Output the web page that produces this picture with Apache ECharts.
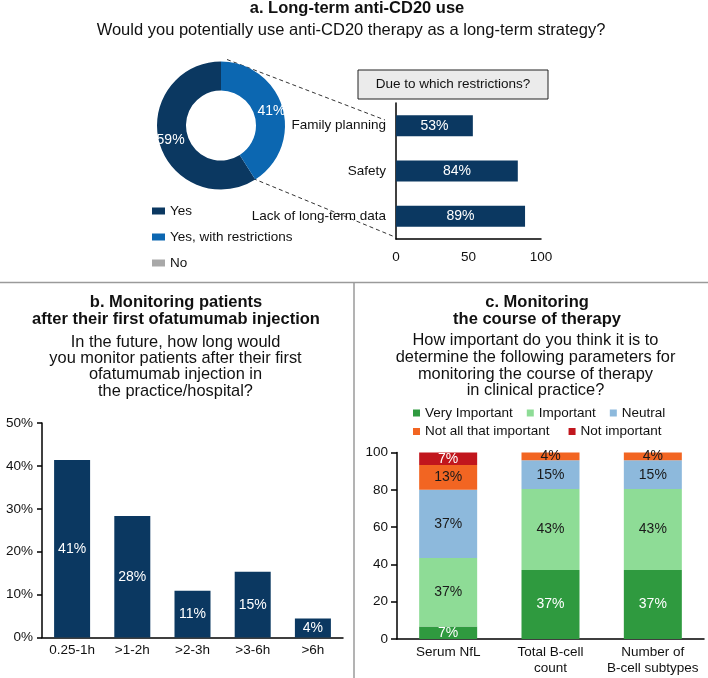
<!DOCTYPE html>
<html>
<head>
<meta charset="utf-8">
<script src="https://cdn.jsdelivr.net/npm/echarts@6/dist/echarts.min.js"></script>
<style>
html,body{margin:0;padding:0;background:#fff;}
#chart{width:708px;height:678px;}
</style>
</head>
<body>
<div id="chart"></div>
<script>
// ---- Panel a data ----
const pieNames = ['Yes', 'Yes, with restrictions', 'No'];
const pieValues = [59, 41, 0];
const restrictCats = ['Family planning', 'Safety', 'Lack of long-term data'];
const restrictValues = [53, 84, 89];
const restrictTicks = [0, 50, 100];

// ---- Panel b data ----
const monitorCats = ['0.25-1h', '>1-2h', '>2-3h', '>3-6h', '>6h'];
const monitorValues = [41.4, 28.3, 10.9, 15.3, 4.4];

// ---- Panel c data ----
const paramCats = ['Serum NfL', 'Total B-cell\ncount', 'Number of\nB-cell subtypes'];
const levelNames = ['Very Important', 'Important', 'Neutral', 'Not all that important', 'Not important'];
const veryImportant = [6.7, 37, 37];
const important = [36.7, 43.4, 43.4];
const neutral = [36.6, 15.4, 15.4];
const notAllThatImportant = [13.3, 4.2, 4.2];
const notImportant = [6.7, 0, 0];

const FONT = 'Liberation Sans, Arial, Helvetica, sans-serif';
const NAVY = '#0b3861';
const MIDBLUE = '#0c67b1';
const GREY = '#a8a8a8';
const levelColors = ['#2f9a3f', '#8edc96', '#8db9dc', '#f26522', '#c1161d'];
const levelLabelColors = ['#fff', '#1a1a1a', '#1a1a1a', '#1a1a1a', '#fff'];
const levelData = [veryImportant, important, neutral, notAllThatImportant, notImportant];

function textEl(str, x, y, size, bold, extra) {
  return Object.assign({
    type: 'text', x: x, y: y, silent: true,
    style: Object.assign({
      text: str, fill: '#111',
      fontSize: size, fontWeight: bold ? 'bold' : 'normal', fontFamily: FONT,
      align: 'center', verticalAlign: 'middle',
      textAlign: 'center', textVerticalAlign: 'middle'
    }, extra || {})
  });
}
function lines(arr, x, ys, size, bold) {
  return arr.map((s, i) => textEl(s, x, ys[i], size, bold));
}

const graphics = [].concat(
  [textEl('a. Long-term anti-CD20 use', 357, 8.5, 16.5, true),
   textEl('Would you potentially use anti-CD20 therapy as a long-term strategy?', 351, 30.5, 16.5, false),
   {type: 'rect', silent: true, shape: {x: 358, y: 70, width: 190, height: 29},
    style: {fill: '#ebebeb', stroke: '#222', lineWidth: 1}},
   textEl('Due to which restrictions?', 453, 84.5, 13.5, false),
   {type: 'line', silent: true, shape: {x1: 227, y1: 59.5, x2: 385, y2: 120},
    style: {stroke: '#333', lineWidth: 1, lineDash: [4, 3]}},
   {type: 'line', silent: true, shape: {x1: 253, y1: 178.5, x2: 395, y2: 237},
    style: {stroke: '#333', lineWidth: 1, lineDash: [4, 3]}},
   {type: 'line', silent: true, shape: {x1: 0, y1: 282.5, x2: 708, y2: 282.5},
    style: {stroke: '#9a9a9a', lineWidth: 1.5}},
   {type: 'line', silent: true, shape: {x1: 354, y1: 282.5, x2: 354, y2: 678},
    style: {stroke: '#9a9a9a', lineWidth: 1.5}}],
  lines(['b. Monitoring patients', 'after their first ofatumumab injection'], 176, [302.5, 319], 16.5, true),
  lines(['In the future, how long would', 'you monitor patients after their first',
         'ofatumumab injection in', 'the practice/hospital?'], 175.5, [342.5, 358.5, 374.5, 391], 16.4, false),
  lines(['c. Monitoring', 'the course of therapy'], 537, [302.5, 319], 16.5, true),
  lines(['How important do you think it is to', 'determine the following parameters for',
         'monitoring the course of therapy', 'in clinical practice?'], 535.5, [340.5, 357.2, 374, 390.8], 16.4, false)
);

const axisBlack = {lineStyle: {color: '#000', width: 1.5}};
const tickLbl = {color: '#111', fontSize: 13.5, fontFamily: FONT};
const legendText = {fontSize: 13.5, color: '#111', lineHeight: 16, fontFamily: FONT};

const option = {
  animation: false,
  textStyle: {fontFamily: FONT},
  graphic: graphics,
  legend: [
    {
      data: pieNames, orient: 'vertical', left: 152, top: 203, padding: 0,
      itemWidth: 13, itemHeight: 7, itemGap: 10, icon: 'rect', selectedMode: false,
      textStyle: legendText
    },
    {
      data: levelNames.slice(0, 3), orient: 'horizontal', left: 413, top: 405, padding: 0,
      itemWidth: 7, itemHeight: 7, itemGap: 14, icon: 'rect', selectedMode: false,
      textStyle: legendText
    },
    {
      data: levelNames.slice(3), orient: 'horizontal', left: 413, top: 423.5, padding: 0,
      itemWidth: 7, itemHeight: 7, itemGap: 19, icon: 'rect', selectedMode: false,
      textStyle: legendText
    }
  ],
  grid: [
    {left: 396, top: 103, width: 145, height: 136},
    {left: 42, top: 423, width: 301, height: 214.5},
    {left: 397, top: 452.5, width: 307, height: 186.5}
  ],
  xAxis: [
    {gridIndex: 0, type: 'value', min: restrictTicks[0], max: restrictTicks[2], interval: restrictTicks[1] - restrictTicks[0],
     splitLine: {show: false}, axisLine: Object.assign({show: true}, axisBlack), axisTick: {show: false},
     axisLabel: Object.assign({margin: 11}, tickLbl)},
    {gridIndex: 1, type: 'category', data: monitorCats,
     axisLine: axisBlack, axisTick: {show: false},
     axisLabel: Object.assign({margin: 6}, tickLbl)},
    {gridIndex: 2, type: 'category', data: paramCats,
     axisLine: axisBlack, axisTick: {show: false},
     axisLabel: Object.assign({margin: 5, lineHeight: 16, interval: 0}, tickLbl)}
  ],
  yAxis: [
    {gridIndex: 0, type: 'category', data: restrictCats, inverse: true,
     axisLine: axisBlack, axisTick: {show: false},
     axisLabel: Object.assign({margin: 10}, tickLbl)},
    {gridIndex: 1, type: 'value', min: 0, max: 50, interval: 10,
     splitLine: {show: false}, axisLine: Object.assign({show: true}, axisBlack),
     axisTick: {show: true, length: 5, lineStyle: {color: '#000', width: 1.5}},
     axisLabel: Object.assign({margin: 9, formatter: '{value}%'}, tickLbl)},
    {gridIndex: 2, type: 'value', min: 0, max: 100, interval: 20,
     splitLine: {show: false}, axisLine: Object.assign({show: true}, axisBlack),
     axisTick: {show: true, length: 6, lineStyle: {color: '#000', width: 1.5}},
     axisLabel: Object.assign({margin: 9}, tickLbl)}
  ],
  series: [
    {
      type: 'pie', center: [221, 125.5], radius: [35, 64], clockwise: false, startAngle: 90,
      avoidLabelOverlap: false, silent: true,
      data: pieNames.map((n, i) => ({name: n, value: pieValues[i],
        itemStyle: {color: [NAVY, MIDBLUE, GREY][i]}})),
      label: {show: true, position: 'inside', color: '#fff', fontSize: 14, fontFamily: FONT,
        formatter: p => p.value ? p.value + '%' : ''},
      labelLine: {show: false}
    },
    {
      type: 'bar', xAxisIndex: 0, yAxisIndex: 0, data: restrictValues, barWidth: 21,
      itemStyle: {color: NAVY}, silent: true,
      label: {show: true, position: 'inside', color: '#fff', fontSize: 14, fontFamily: FONT,
        formatter: p => Math.round(p.value) + '%'}
    },
    {
      type: 'bar', xAxisIndex: 1, yAxisIndex: 1, data: monitorValues, barWidth: 36,
      itemStyle: {color: NAVY}, silent: true,
      label: {show: true, position: 'inside', color: '#fff', fontSize: 14, fontFamily: FONT,
        formatter: p => Math.round(p.value) + '%'}
    }
  ].concat(levelNames.map((name, i) => ({
    type: 'bar', name: name, stack: 'imp', xAxisIndex: 2, yAxisIndex: 2,
    data: levelData[i], barWidth: 58, silent: true,
    itemStyle: {color: levelColors[i]},
    label: {show: true, position: 'inside', color: levelLabelColors[i], fontSize: 14, fontFamily: FONT,
      formatter: p => p.value ? Math.round(p.value) + '%' : ''}
  })))
};

const chart = echarts.init(document.getElementById('chart'), null, {renderer: 'canvas'});
chart.setOption(option);
</script>
</body>
</html>
